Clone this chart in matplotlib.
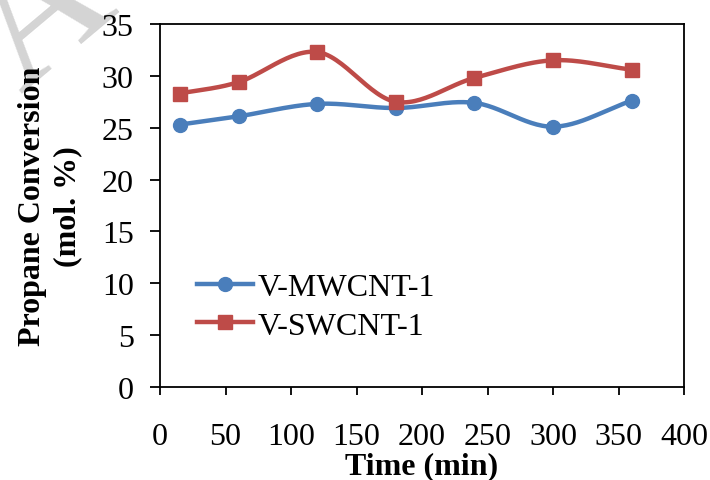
import numpy as np
import matplotlib.pyplot as plt

# data
time_min = [15, 60, 120, 180, 240, 300, 360]
mwcnt = [25.3, 26.1, 27.3, 26.9, 27.4, 25.1, 27.6]
swcnt = [28.3, 29.4, 32.3, 27.5, 29.8, 31.5, 30.6]
x_ticks = [0, 50, 100, 150, 200, 250, 300, 350, 400]
y_ticks = [0, 5, 10, 15, 20, 25, 30, 35]


def smooth(x, y, n=30):
    # Catmull-Rom curve through the points (like Excel "smoothed line")
    x = np.asarray(x, float)
    y = np.asarray(y, float)
    px = np.concatenate([[2 * x[0] - x[1]], x, [2 * x[-1] - x[-2]]])
    py = np.concatenate([[2 * y[0] - y[1]], y, [2 * y[-1] - y[-2]]])
    t = np.linspace(0, 1, n)
    xs, ys = [], []
    for i in range(1, len(px) - 2):
        for p, out in ((px, xs), (py, ys)):
            p0, p1, p2, p3 = p[i - 1], p[i], p[i + 1], p[i + 2]
            out.extend(0.5 * (2 * p1 + (-p0 + p2) * t
                              + (2 * p0 - 5 * p1 + 4 * p2 - p3) * t ** 2
                              + (-p0 + 3 * p1 - 3 * p2 + p3) * t ** 3))
    return xs, ys


plt.rcParams['font.family'] = ['Liberation Serif', 'DejaVu Serif']
fig = plt.figure(figsize=(7.1, 4.81), dpi=100)
ax = fig.add_axes([0.2254, 0.1933, 0.7380, 0.7547])
ax.patch.set_alpha(0)

# faint watermark in the corner, behind everything
fig.text(0.06, 0.96, "A", fontsize=130, color="#d4d4d4", rotation=40,
         ha="center", va="center", zorder=-1, clip_on=True)

blue = "#4a7ebb"
red = "#be4b48"
sx, sy = smooth(time_min, mwcnt)
ax.plot(sx, sy, color=blue, lw=3.2, solid_capstyle="round")
ax.plot(time_min, mwcnt, "o", color=blue, ms=10)
sx, sy = smooth(time_min, swcnt)
ax.plot(sx, sy, color=red, lw=3.2, solid_capstyle="round")
ax.plot(time_min, swcnt, "s", color=red, ms=10)

# legend handles
ax.plot([], [], "-o", color=blue, lw=3.2, ms=10, label="V-MWCNT-1")
ax.plot([], [], "-s", color=red, lw=3.2, ms=10, label="V-SWCNT-1")
ax.legend(loc="center left", bbox_to_anchor=(0.07, 0.221), frameon=False,
          fontsize=23, handlelength=1.75, handletextpad=0.15,
          labelspacing=0.28, borderpad=0, borderaxespad=0)

ax.set_xlim(0, 400)
ax.set_ylim(0, 35)
ax.set_xticks(x_ticks)
ax.set_yticks(y_ticks)
ax.tick_params(labelsize=23, direction="out", width=1.3)
ax.tick_params(axis="y", length=7, pad=12)
ax.tick_params(axis="x", length=6, pad=19)
for s in ax.spines.values():
    s.set_linewidth(1.3)
ax.set_xlabel("Time (min)", fontsize=23, fontweight="bold", labelpad=0)
ax.set_ylabel("Propane Conversion\n(mol. %)", fontsize=23, fontweight="bold",
              labelpad=14, linespacing=1.3)

plt.savefig("out.png", dpi=100)
